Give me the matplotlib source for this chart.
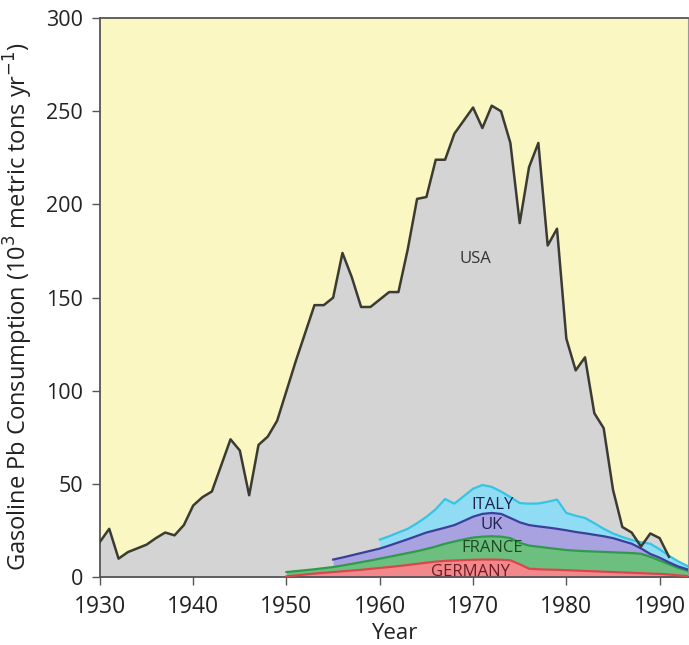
import numpy as np
import matplotlib
matplotlib.use('Agg')
import matplotlib.pyplot as plt

plt.rcParams['font.family'] = ['Open Sans', 'DejaVu Sans']

# USA gasoline lead consumption (10^3 metric tons / yr)
usa_years = list(range(1930, 1992))
usa = [19, 26, 10, 13.5, 15.5, 17.5, 21, 24, 22.5, 28,
       38.5, 43, 46, 60, 74, 68, 44, 71, 75.5, 84,
       100, 116, 131, 146, 146, 150, 174, 161, 145, 145,
       149, 153, 153, 176, 203, 204, 224, 224, 238, 245,
       252, 241, 253, 250, 233, 190, 220, 233, 178, 187,
       128, 111, 118, 88, 80, 47, 27, 24, 16.5, 23.5,
       21, 11]

# European countries (individual values, stacked in the plot), NaN = no data
eu_years = list(range(1950, 1994))
nan = np.nan
germany = [0.5, 1.0, 1.5, 2.0, 2.4, 2.8, 3.2, 3.6, 4.0, 4.5,
           5.0, 5.5, 6.0, 6.6, 7.2, 7.8, 8.4, 8.8, 9.0, 9.2,
           9.4, 9.5, 9.5, 9.4, 9.1, 7.0, 4.6, 4.3, 4.1, 4.0,
           3.8, 3.6, 3.4, 3.2, 3.0, 2.8, 2.6, 2.4, 2.2, 2.0,
           1.8, 1.5, 1.0, 0.6]
france = [2.3, 2.3, 2.3, 2.3, 2.5, 2.7, 3.1, 3.6, 4.1, 4.5,
          5.0, 5.5, 6.0, 6.4, 6.8, 7.4, 8.1, 9.2, 10.2, 11.1,
          11.9, 12.3, 12.5, 12.4, 11.9, 11.5, 12.4, 12.1, 11.7, 11.2,
          10.8, 10.7, 10.6, 10.6, 10.6, 10.6, 10.6, 10.6, 10.4, 9.0,
          7.2, 5.5, 4.0, 2.9]
uk = [nan, nan, nan, nan, nan, 4.0, 4.3, 4.6, 4.9, 5.2,
      5.4, 6.0, 6.7, 7.4, 8.2, 8.8, 8.8, 8.6, 8.8, 9.9,
      11.2, 12.2, 12.5, 12.2, 10.8, 11.0, 11.0, 10.9, 10.9, 10.8,
      10.6, 10.0, 9.6, 9.0, 8.4, 7.6, 6.3, 5.0, 2.9, 1.5,
      1.5, 1.0, 0.8, 0.7]
italy = [nan, nan, nan, nan, nan, nan, nan, nan, nan, nan,
         4.8, 5.0, 5.3, 5.6, 6.8, 8.4, 11.2, 15.4, 11.5, 13.3,
         15.0, 15.5, 14.0, 12.0, 11.2, 10.3, 11.5, 12.3, 13.8, 15.7,
         9.3, 8.7, 8.2, 6.2, 4.0, 2.5, 2.1, 2.0, 3.3, 5.5,
         4.5, 3.5, 2.7, 1.8]

countries = ['GERMANY', 'FRANCE', 'UK', 'ITALY']
series = [germany, france, uk, italy]
fills = ['#f2888c', '#6cbf7e', '#a8a3e0', '#8fdcf4']
lines = ['#d9474d', '#2f9a4c', '#3b3f9c', '#35c4e6']
label_colors = ['#6b1c24', '#1d4a22', '#1c2050', '#1c2050']
label_pos = [(1969.7, 3.0), (1972.0, 15.5), (1972.0, 28.0), (1972.1, 38.8)]

fig = plt.figure(figsize=(6.89, 6.45), dpi=100)
ax = fig.add_axes([0.145, 0.105, 0.853, 0.867])
ax.set_facecolor('#fbf7c3')

x = np.array(eu_years)
ax.fill_between(usa_years, 0, usa, color='#d4d4d4', lw=0, zorder=1)

base = np.zeros(len(x))
tops = []
for vals, fc in zip(series, fills):
    v = np.array(vals, dtype=float)
    ok = ~np.isnan(v)
    top = base + np.nan_to_num(v)
    ax.fill_between(x[ok], base[ok], top[ok], color=fc, lw=0, zorder=2)
    tops.append((x[ok], top[ok]))
    base = top

for (xx, tt), lc in zip(tops, lines):
    ax.plot(xx, tt, color=lc, lw=1.6, zorder=3)

ax.plot(usa_years, usa, color='#3b3b33', lw=1.8, zorder=4)

ax.text(1970.2, 171, 'USA', ha='center', va='center', fontsize=12,
        color='#333333', zorder=5)
for name, (px, py), c in zip(countries, label_pos, label_colors):
    ax.text(px, py, name, ha='center', va='center', fontsize=12,
            color=c, zorder=5)

ax.set_xlim(1930, 1993)
ax.set_ylim(0, 300)
ax.set_xticks(range(1930, 1991, 10))
ax.set_yticks(range(0, 301, 50))
ax.tick_params(direction='out', length=6, width=1, colors='#555555',
               labelcolor='#222222')
ax.tick_params(axis='x', labelsize=16.5, pad=7)
ax.tick_params(axis='y', labelsize=15.5, pad=6)
for s in ['left', 'bottom', 'top']:
    ax.spines[s].set_color('#555555')
    ax.spines[s].set_linewidth(1.3)
ax.spines['right'].set_color('#999999')

ax.set_xlabel('Year', fontsize=16, color='#222222', labelpad=3)
ax.set_ylabel('Gasoline Pb Consumption (10$^3$ metric tons yr$^{-1}$)',
              fontsize=17, color='#222222')
ax.yaxis.set_label_coords(-0.11, 0.484)

plt.savefig('out.png', dpi=100)
